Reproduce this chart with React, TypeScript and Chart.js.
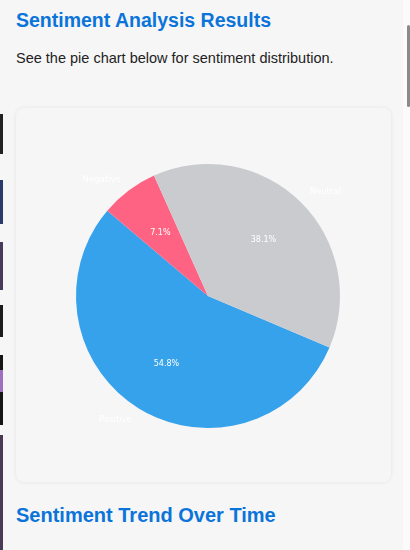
import React, { useEffect, useRef } from "react";
import { Chart, registerables } from "chart.js";

Chart.register(...registerables);

const categories = ["Positive", "Negative", "Neutral"];
const shares = [54.8, 7.1, 38.1];
const sliceColors = ["#36a2eb", "#ff6384", "#c9cbcf"];

const labelPlugin = {
  id: "sliceLabels",
  afterDatasetsDraw(chart: any) {
    const ctx = chart.ctx;
    const meta = chart.getDatasetMeta(0);
    const data = chart.data.datasets[0].data as number[];
    const total = data.reduce((a, b) => a + b, 0);
    ctx.save();
    ctx.fillStyle = "#ffffff";
    ctx.textBaseline = "middle";
    meta.data.forEach((arc: any, i: number) => {
      const { x, y, startAngle, endAngle, outerRadius } = arc.getProps(
        ["x", "y", "startAngle", "endAngle", "outerRadius"],
        true
      );
      const mid = (startAngle + endAngle) / 2;
      const pr = outerRadius * 0.6;
      ctx.font = "8px 'DejaVu Sans', sans-serif";
      ctx.textAlign = "center";
      ctx.fillText(
        ((data[i] / total) * 100).toFixed(1) + "%",
        x + Math.cos(mid) * pr,
        y + Math.sin(mid) * pr
      );
      const lr = outerRadius * 1.1;
      const lx = x + Math.cos(mid) * lr;
      const ly = y + Math.sin(mid) * lr;
      ctx.font = "8.5px 'DejaVu Sans', sans-serif";
      ctx.textAlign = lx < x ? "right" : "left";
      ctx.fillText(chart.data.labels[i], lx, ly);
    });
    ctx.restore();
  },
};

function PieChart() {
  const ref = useRef<HTMLCanvasElement>(null);
  useEffect(() => {
    if (!ref.current) return;
    const chart = new Chart(ref.current, {
      type: "pie",
      data: {
        labels: categories,
        datasets: [
          {
            data: shares,
            backgroundColor: sliceColors,
            borderWidth: 0,
          },
        ],
      },
      options: {
        animation: false,
        responsive: false,
        maintainAspectRatio: false,
        rotation: 113,
        layout: { padding: { left: 60, right: 51, top: 56, bottom: 54 } },
        plugins: {
          legend: { display: false },
          tooltip: { enabled: false },
        },
      },
      plugins: [labelPlugin],
    });
    return () => chart.destroy();
  }, []);
  return <canvas ref={ref} width={375} height={374} style={{ display: "block" }} />;
}

const stripPieces = [
  { top: 114, height: 40, color: "#222" },
  { top: 180, height: 44, color: "#2a3a6a" },
  { top: 242, height: 48, color: "#4a3a5a" },
  { top: 305, height: 32, color: "#1c1c1c" },
  { top: 355, height: 70, color: "#161616" },
  { top: 370, height: 22, color: "#a070c0" },
  { top: 435, height: 115, color: "#4a3a55" },
];

export default function App() {
  useEffect(() => {
    document.body.style.margin = "0";
    document.body.style.background = "#f6f6f6";
  }, []);
  return (
    <div
      style={{
        position: "relative",
        width: 410,
        height: 550,
        overflow: "hidden",
        background: "#f6f6f6",
        fontFamily: "'Liberation Sans', Arial, sans-serif",
      }}
    >
      {stripPieces.map((p, i) => (
        <div
          key={i}
          style={{
            position: "absolute",
            left: 0,
            top: p.top,
            width: 3,
            height: p.height,
            background: p.color,
          }}
        />
      ))}
      <div
        style={{
          position: "absolute",
          left: 403,
          top: 0,
          width: 7,
          height: 550,
          background: "#fbfbfb",
        }}
      />
      <div
        style={{
          position: "absolute",
          left: 407,
          top: 25,
          width: 3,
          height: 82,
          background: "#8a8a8a",
          borderRadius: 2,
        }}
      />
      <h2
        style={{
          position: "absolute",
          left: 16,
          top: 9,
          margin: 0,
          fontSize: 19.5,
          fontWeight: "bold",
          color: "#0a74da",
          whiteSpace: "nowrap",
        }}
      >
        Sentiment Analysis Results
      </h2>
      <p
        style={{
          position: "absolute",
          left: 16,
          top: 50,
          margin: 0,
          fontSize: 14.5,
          color: "#222",
          whiteSpace: "nowrap",
        }}
      >
        See the pie chart below for sentiment distribution.
      </p>
      <div
        style={{
          position: "absolute",
          left: 16,
          top: 108,
          width: 375,
          height: 374,
          background: "#f6f6f6",
          borderRadius: 8,
          boxShadow: "0 0 4px rgba(0,0,0,0.08)",
        }}
      >
        <PieChart />
      </div>
      <h2
        style={{
          position: "absolute",
          left: 16,
          top: 504,
          margin: 0,
          fontSize: 20,
          fontWeight: "bold",
          color: "#0a74da",
          whiteSpace: "nowrap",
        }}
      >
        Sentiment Trend Over Time
      </h2>
    </div>
  );
}
